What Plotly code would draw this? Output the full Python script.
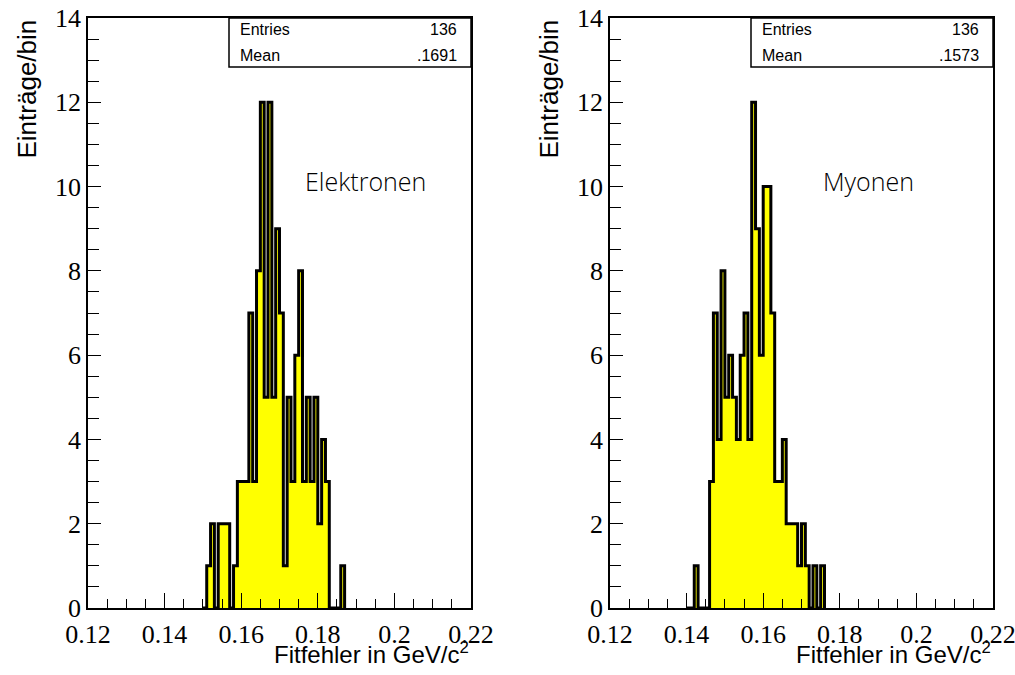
import numpy as np
import plotly.graph_objects as go

# ---------------- data ----------------
bin_width = 0.001
elek_start = 0.150   # lower edge of first listed bin (Elektronen)
elek_counts = [0, 1, 2, 0, 2, 2, 2, 0, 1, 3, 3, 3, 7, 3, 8, 12, 5, 12, 5, 9, 7, 1,
               5, 3, 6, 8, 3, 5, 3, 5, 2, 4, 3, 0, 0, 0, 1]
myon_start = 0.140   # lower edge of first listed bin (Myonen)
myon_counts = [0, 0, 1, 0, 0, 0, 3, 7, 4, 8, 5, 6, 5, 4, 6, 7, 4, 12, 9, 6, 10, 10,
               7, 3, 3, 4, 2, 2, 2, 1, 2, 1, 0, 1, 0, 1]
elek_mean_text = ".1691"
myon_mean_text = ".1573"
x_tickvals = [0.12, 0.14, 0.16, 0.18, 0.2, 0.22]
x_ticktext = ["0.12", "0.14", "0.16", "0.18", "0.2", "0.22"]
y_tickvals = [0, 2, 4, 6, 8, 10, 12, 14]

W, H = 1015, 675

def px(x):
    return x / W

def py(y):
    return 1 - y / H

left_dom = [px(88), px(471)]
right_dom = [px(610), px(993)]
y_dom = [py(608), py(18)]

fig = go.Figure()

def step_trace(start, counts, xaxis, yaxis):
    counts = np.asarray(counts, dtype=float)
    edges = start + bin_width * np.arange(len(counts) + 1)
    xs = np.concatenate([[edges[0]], edges])
    ys = np.concatenate([[0.0], counts, [0.0]])
    return go.Scatter(x=xs, y=ys, mode="lines", line=dict(shape="hv", color="black", width=3),
                      fill="tozeroy", fillcolor="#ffff00", xaxis=xaxis, yaxis=yaxis,
                      showlegend=False, hoverinfo="skip")

fig.add_trace(step_trace(elek_start, elek_counts, "x", "y"))
fig.add_trace(step_trace(myon_start, myon_counts, "x2", "y2"))

tickfont = dict(family="Liberation Serif, Times New Roman, serif", size=26, color="black")
xaxis_common = dict(range=[0.12, 0.22], tickvals=x_tickvals, ticktext=x_ticktext,
                    ticks="inside", ticklen=15, tickwidth=1, tickcolor="black",
                    minor=dict(dtick=0.005, tick0=0.12, ticks="inside", ticklen=9, tickwidth=1,
                               tickcolor="black", showgrid=False),
                    showline=True, linecolor="black", linewidth=1.5, mirror=True,
                    showgrid=False, zeroline=False, tickfont=tickfont, ticklabelstandoff=2,
                    ticklabeloverflow="allow", automargin=False)
yaxis_common = dict(range=[0, 14], tickvals=y_tickvals, ticks="inside", ticklen=13, tickwidth=1,
                    tickcolor="black",
                    minor=dict(dtick=0.5, tick0=0, ticks="inside", ticklen=11, tickwidth=1,
                               tickcolor="black", showgrid=False),
                    showline=True, linecolor="black", linewidth=1.5, mirror=True,
                    showgrid=False, zeroline=False, tickfont=tickfont, domain=y_dom,
                    automargin=False)

fig.update_layout(
    width=W, height=H, margin=dict(l=0, r=0, t=0, b=0, autoexpand=False),
    paper_bgcolor="white", plot_bgcolor="white",
    xaxis=dict(domain=left_dom, anchor="y", **xaxis_common),
    yaxis=dict(anchor="x", **yaxis_common),
    xaxis2=dict(domain=right_dom, anchor="y2", **xaxis_common),
    yaxis2=dict(anchor="x2", **yaxis_common),
)

sans = "Liberation Sans, Arial, sans-serif"
annotations = []
shapes = []
panels = [(left_dom, elek_counts, elek_mean_text, "Elektronen", 365),
          (right_dom, myon_counts, myon_mean_text, "Myonen", 868)]
for dom, counts, mean_text, label, label_x in panels:
    # axis titles
    annotations.append(dict(text="Fitfehler in GeV/c<sup>2</sup>", x=dom[1], y=py(670),
                            xref="paper", yref="paper", xanchor="right", yanchor="bottom",
                            showarrow=False, font=dict(family=sans, size=24, color="black")))
    annotations.append(dict(text="Einträge/bin", x=dom[0] - px(61), y=py(18),
                            xref="paper", yref="paper", xanchor="center", yanchor="top",
                            textangle=-90, showarrow=False,
                            font=dict(family=sans, size=26, color="black")))
    # stats box
    box_left = dom[1] - px(242)
    shapes.append(dict(type="rect", xref="paper", yref="paper", x0=box_left, x1=dom[1],
                       y0=py(67), y1=y_dom[1], line=dict(color="black", width=1.5),
                       fillcolor="white", layer="above"))
    statfont = dict(family=sans, size=16, color="black")
    annotations.append(dict(text="Entries", x=box_left + px(9), y=py(30), xref="paper", yref="paper",
                            xanchor="left", yanchor="middle", showarrow=False, font=statfont))
    annotations.append(dict(text=str(int(sum(counts))), x=dom[1] - px(12), y=py(30), xref="paper",
                            yref="paper", xanchor="right", yanchor="middle", showarrow=False,
                            font=statfont))
    annotations.append(dict(text="Mean", x=box_left + px(9), y=py(55), xref="paper", yref="paper",
                            xanchor="left", yanchor="middle", showarrow=False, font=statfont))
    annotations.append(dict(text=mean_text, x=dom[1] - px(12), y=py(55), xref="paper",
                            yref="paper", xanchor="right", yanchor="middle", showarrow=False,
                            font=statfont))
    # sample label
    annotations.append(dict(text=label, x=px(label_x), y=py(181), xref="paper", yref="paper",
                            xanchor="center", yanchor="middle", showarrow=False,
                            font=dict(family="Open Sans, Liberation Sans, sans-serif", size=25,
                                      color="black", weight=300)))

fig.update_layout(annotations=annotations, shapes=shapes)
fig.write_html("out.html")
